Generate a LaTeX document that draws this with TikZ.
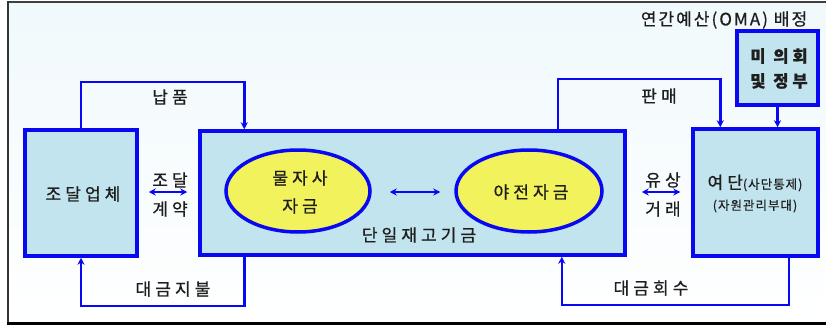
\documentclass[tikz,border=0pt]{standalone}
\usepackage{fontspec}
\setmainfont{Noto Sans CJK KR}[LetterSpace=24,FakeBold=0.8]
\newfontfamily\krtight{Noto Sans CJK KR}[LetterSpace=12,FakeBold=0.6]
\newfontfamily\krsmall{Noto Sans CJK KR}[LetterSpace=8,FakeBold=0.6]
\usetikzlibrary{arrows.meta,shapes.geometric,calc}
\definecolor{boxfill}{HTML}{C2E4EE}
\definecolor{elfill}{HTML}{F2F25C}
\definecolor{bgmid}{HTML}{D0EEF6}
\definecolor{bgtop}{HTML}{F0F9FC}
\definecolor{txt}{HTML}{1E1E1E}
\definecolor{lineblue}{HTML}{0808F2}
\tikzset{
  box/.style={draw=lineblue, line width=3.5pt, fill=boxfill, rectangle, inner sep=0pt},
  fundel/.style={draw=lineblue, line width=3.5pt, fill=elfill, ellipse, inner sep=0pt},
  conn/.style={draw=lineblue, line width=2.5pt},
  tip/.style={-{Stealth[length=7pt,width=7pt]}},
  dtip/.style={{Stealth[length=7pt,width=7pt]}-{Stealth[length=7pt,width=7pt]}},
  lbl/.style={text=txt, font=\fontsize{17}{19}\selectfont, inner sep=0pt},
}
\begin{document}
\begin{tikzpicture}[x=1pt,y=-1pt]
\useasboundingbox (0,0) rectangle (826,326);
% background
\fill[white] (0,0) rectangle (826,326);
\shade[top color=bgtop, middle color=bgmid, bottom color=white] (8,3) rectangle (826,323);
\draw[black!75, line width=2pt] (8,2.5) -- (826,2.5);
\draw[black!80, line width=2.5pt] (8,1.5) -- (8,324);
\draw[black, line width=3pt] (6.8,323.5) -- (826,323.5);

% boxes
\node[box, minimum width=112pt, minimum height=126pt] (sup) at (81,193) {};
\node[box, minimum width=425pt, minimum height=124pt] (fund) at (412.5,193) {};
\node[box, minimum width=125pt, minimum height=127pt] (bde) at (755.5,192.5) {};
\node[box, minimum width=81pt, minimum height=74pt] (cong) at (777.5,68) {};
\node[fundel, minimum width=144pt, minimum height=82pt] (el1) at (298,191) {};
\node[fundel, minimum width=146pt, minimum height=82pt] (el2) at (529,191) {};

% texts in boxes
\node[lbl] (tsup) at (83,194) {조달업체};
\node[lbl] (tel1a) at (300,178) {물자사};
\node[lbl] (tel1b) at (300,206) {자금};
\node[lbl] (tel2) at (531,192) {야전자금};
\node[lbl] (tfund) at (419,235) {단일재고기금};
\node[lbl] (tbde1) at (755,183) {여단{\fontsize{12.5}{14}\selectfont\krsmall(사단통제)}};
\node[lbl, font=\fontsize{12.5}{14}\selectfont\krsmall] (tbde2) at (755,206) {(자원관리부대)};
\node[lbl, font=\fontsize{16.5}{18}\selectfont\bfseries] (tcong1) at (779,56) {미 의회};
\node[lbl, font=\fontsize{16.5}{18}\selectfont\bfseries] (tcong2) at (779,81) {및 정부};
\node[lbl, font=\fontsize{17}{19}\selectfont\krtight] (toma) at (724,20) {연간예산(OMA) 배정};

% flow loops
\draw[conn, tip] (sup.north) -- (sup.north |- 0,82) -| ([xshift=46pt]fund.north west);
\draw[conn, tip] ([xshift=-69pt]fund.north east) -- ++(0,-50) -| ([xshift=29pt]bde.north west);
\draw[conn, tip] (cong.south) -- (cong.south |- bde.north);
\draw[conn, tip] ([xshift=46pt]fund.south west) -- ++(0,49) -| (sup.south);
\draw[conn, tip] ([xshift=-31pt]bde.south east) -- ++(0,47) -| ([xshift=-65pt]fund.south east);

% horizontal double arrows
\draw[conn, dtip] ($(sup.east)+(10,-1)$) -- ($(fund.west)+(-11,-1)$);
\draw[conn, dtip] ($(el1.east)+(18,1)$) -- ($(el2.west)+(-14,1)$);
\draw[conn, dtip] ($(fund.east)+(15,-1)$) -- ($(bde.west)+(-11,-0.5)$);

% connector labels
\node[lbl] (lnap) at (170,97) {납품};
\node[lbl] (lpan) at (659,96) {판매};
\node[lbl] (ljo1) at (170,180) {조달};
\node[lbl] (ljo2) at (170,209) {계약};
\node[lbl] (lyu1) at (663,180) {유상};
\node[lbl] (lyu2) at (663,209) {거래};
\node[lbl] (lpay) at (173,289) {대금지불};
\node[lbl] (lcol) at (651,288) {대금회수};
\end{tikzpicture}
\end{document}
